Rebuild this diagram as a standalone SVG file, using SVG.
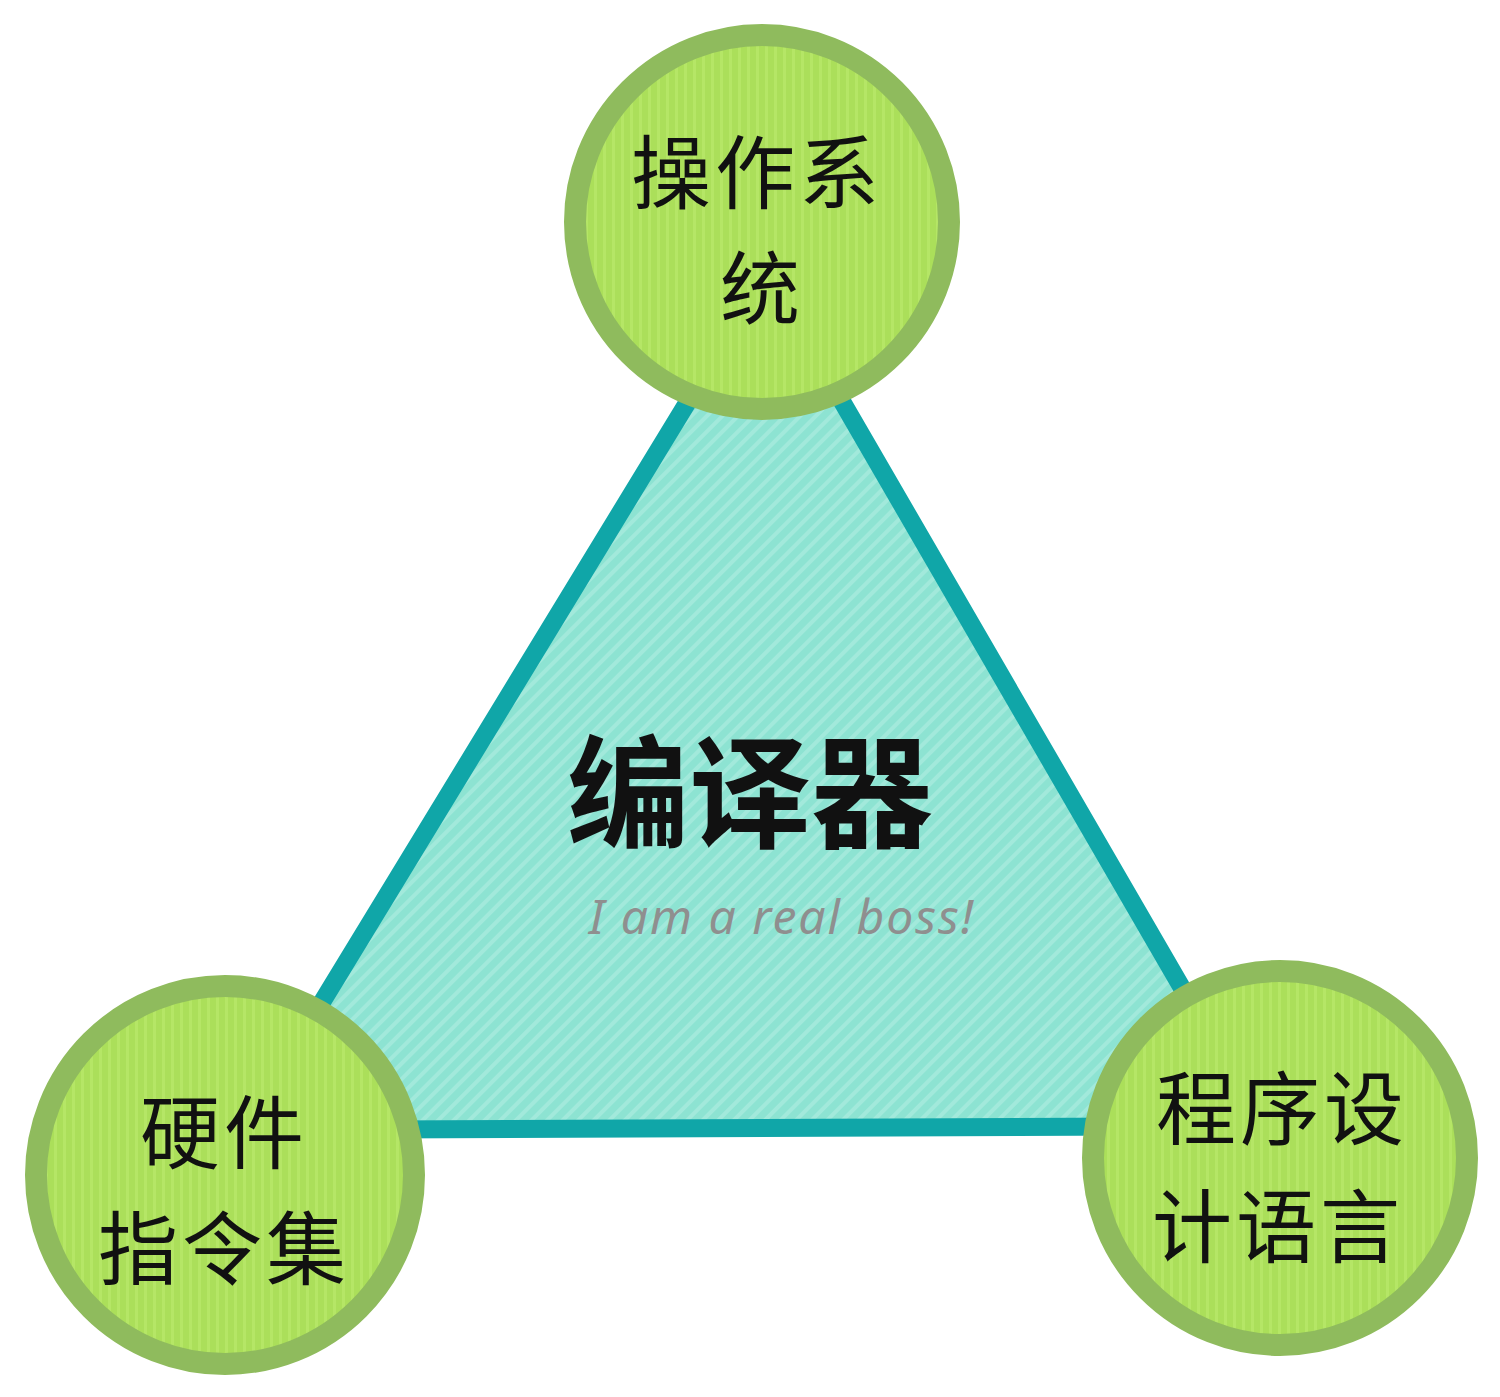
<svg xmlns="http://www.w3.org/2000/svg" width="1500" height="1397" viewBox="0 0 1500 1397">
<defs>
<pattern id="hatch" patternUnits="userSpaceOnUse" width="11" height="11" patternTransform="rotate(45)">
<rect width="11" height="11" fill="#8de3d2"/>
<rect width="4" height="11" fill="#a2e9db"/>
</pattern>
<pattern id="vstripe" patternUnits="userSpaceOnUse" width="9" height="9">
<rect width="9" height="9" fill="#abdf5a"/>
<rect width="3" height="9" fill="#b5e666"/>
</pattern>
</defs>
<style>
.tri{fill:url(#hatch);stroke:#10a6a8;stroke-width:18;stroke-linejoin:round}
.node circle{fill:url(#vstripe);stroke:#8fbb5d;stroke-width:22}
.lbl{font-family:"Noto Sans CJK SC","Noto Sans",sans-serif;font-size:80px;fill:#111;text-anchor:middle;letter-spacing:4px}
.main{font-family:"Noto Sans CJK SC","Noto Sans",sans-serif;font-size:122px;font-weight:600;fill:#111;text-anchor:middle}
.sub{font-family:"Noto Sans","DejaVu Sans",sans-serif;font-style:italic;font-size:48px;fill:#8f8f8f;text-anchor:middle;letter-spacing:2px}
</style>
<rect width="1500" height="1397" fill="#ffffff"/>
<g id="connectors"></g>
<g id="compiler">
<polygon class="tri" points="767,272 1262,1126 244,1130"/>
<text class="main" x="750" y="838">编译器</text>
<text class="sub" x="782" y="934">I am a real boss!</text>
</g>
<g id="os" class="node">
<circle cx="762" cy="222" r="187"/>
<text class="lbl" x="757" y="202">操作系</text>
<text class="lbl" x="762" y="318">统</text>
</g>
<g id="isa" class="node">
<circle cx="225" cy="1175" r="189"/>
<text class="lbl" x="224" y="1162">硬件</text>
<text class="lbl" x="224" y="1278">指令集</text>
</g>
<g id="lang" class="node">
<circle cx="1280" cy="1158" r="187"/>
<text class="lbl" x="1282" y="1138">程序设</text>
<text class="lbl" x="1278" y="1256">计语言</text>
</g>
</svg>
